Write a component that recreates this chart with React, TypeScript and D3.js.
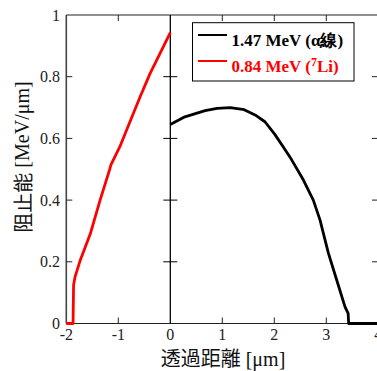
import React from "react";
import * as d3 from "d3";

const xTicks = [-2, -1, 0, 1, 2, 3, 4];
const yTicks = [0, 0.2, 0.4, 0.6, 0.8, 1];

const alphaX = [0, 0.28, 0.67, 0.9, 1.15, 1.42, 1.63, 1.82, 2.01, 2.17, 2.3, 2.56, 2.75, 2.88, 3.04, 3.2, 3.36, 3.42, 3.43, 4.0];
const alphaY = [0.645, 0.67, 0.69, 0.697, 0.7, 0.693, 0.676, 0.654, 0.613, 0.573, 0.54, 0.465, 0.4, 0.335, 0.228, 0.141, 0.054, 0.033, 0, 0];

const liX = [-2, -1.87, -1.86, -1.83, -1.73, -1.54, -1.35, -1.17, -1.14, -0.97, -0.84, -0.58, -0.39, 0];
const liY = [0, 0, 0.125, 0.152, 0.206, 0.29, 0.4, 0.497, 0.515, 0.573, 0.627, 0.735, 0.81, 0.943];

const legendLabels = ["1.47 MeV (α線)", "0.84 MeV (", "Li)"];

export default function App() {
  const W = 377, H = 371;
  const x = d3.scaleLinear().domain([-2, 4]).range([66.3, 378.3]);
  const y = d3.scaleLinear().domain([0, 1]).range([323.5, 15]);
  const line = d3.line<[number, number]>().x(d => x(d[0])).y(d => y(d[1]));
  const alpha: [number, number][] = alphaX.map((v, i) => [v, alphaY[i]]);
  const li: [number, number][] = liX.map((v, i) => [v, liY[i]]);
  const x0 = x(0), xl = x(-2), xr = x(4), yb = y(0), yt = y(1);
  const serif = "'Liberation Serif', 'Times New Roman', serif";
  const cjk = "'Noto Sans CJK JP', sans-serif";
  return (
    <svg width={W} height={H} style={{ position: "absolute", left: 0, top: 0 }} fontFamily={serif}>
      <rect x={0} y={0} width={W} height={H} fill="#fff" />
      {/* frame */}
      <line x1={xl} x2={xl} y1={yt} y2={yb} stroke="#444" strokeWidth={1.6} />
      <line x1={xl} x2={xr} y1={yt} y2={yt} stroke="#222" strokeWidth={1.2} />
      <line x1={xl} x2={xr} y1={yb} y2={yb} stroke="#222" strokeWidth={1.2} />
      <line x1={xr} x2={xr} y1={yt} y2={yb} stroke="#222" strokeWidth={1.2} />
      <line x1={x0} x2={x0} y1={yt} y2={yb} stroke="#000" strokeWidth={1.3} />
      {xTicks.filter(t => t !== 0 && t !== -2 && t !== 4).map(t => (
        <g key={"xt" + t}>
          <line x1={x(t)} x2={x(t)} y1={yb} y2={yb - 6} stroke="#222" strokeWidth={1} />
          <line x1={x(t)} x2={x(t)} y1={yt} y2={yt + 6} stroke="#222" strokeWidth={1} />
        </g>
      ))}
      {yTicks.filter(t => t !== 0 && t !== 1).map(t => (
        <g key={"yt" + t}>
          <line x1={xl} x2={xl + 6} y1={y(t)} y2={y(t)} stroke="#222" strokeWidth={1} />
          <line x1={x0 - 7} x2={x0 + 7} y1={y(t)} y2={y(t)} stroke="#000" strokeWidth={1} />
          <line x1={W - 5} x2={W} y1={y(t)} y2={y(t)} stroke="#222" strokeWidth={1} />
        </g>
      ))}
      {xTicks.map(t => (
        <text key={"xl" + t} x={x(t)} y={340} fontSize={16} textAnchor="middle" fill="#222">{t < 0 ? "-" + Math.abs(t) : String(t)}</text>
      ))}
      {yTicks.map(t => (
        <text key={"yl" + t} x={60} y={y(t)} dy="0.35em" fontSize={16} textAnchor="end" fill="#222">{String(t)}</text>
      ))}
      {/* data lines */}
      <path d={line(li) || ""} fill="none" stroke="#ff0000" strokeWidth={2.8} strokeLinejoin="round" />
      <path d={line(alpha) || ""} fill="none" stroke="#000" strokeWidth={2.8} strokeLinejoin="round" />
      {/* legend */}
      <rect x={192.5} y={22.7} width={161.5} height={58.3} fill="#fff" stroke="#000" strokeWidth={1} />
      <line x1={198} x2={227} y1={35} y2={35} stroke="#000" strokeWidth={2} />
      <line x1={198} x2={227} y1={61} y2={61} stroke="#ff0000" strokeWidth={2} />
      <text x={231.5} y={45.5} fontSize={17} fontWeight="bold" fill="#000">{legendLabels[0]}</text>
      <text x={231.5} y={72} fontSize={17} fontWeight="bold" fill="#ff0000">
        {legendLabels[1]}
        <tspan dy={-6} fontSize={12}>7</tspan>
        <tspan dy={6}>{legendLabels[2]}</tspan>
      </text>
      {/* axis titles */}
      <text x={223} y={366} fontSize={20} textAnchor="middle" fill="#111">
        <tspan fontFamily={cjk}>透過距離</tspan>
        <tspan> [μm]</tspan>
      </text>
      <text transform="translate(22,157) rotate(-90)" fontSize={20} textAnchor="middle" dominantBaseline="central" fill="#111">
        <tspan fontFamily={cjk}>阻止能</tspan>
        <tspan> [MeV/μm]</tspan>
      </text>
    </svg>
  );
}
